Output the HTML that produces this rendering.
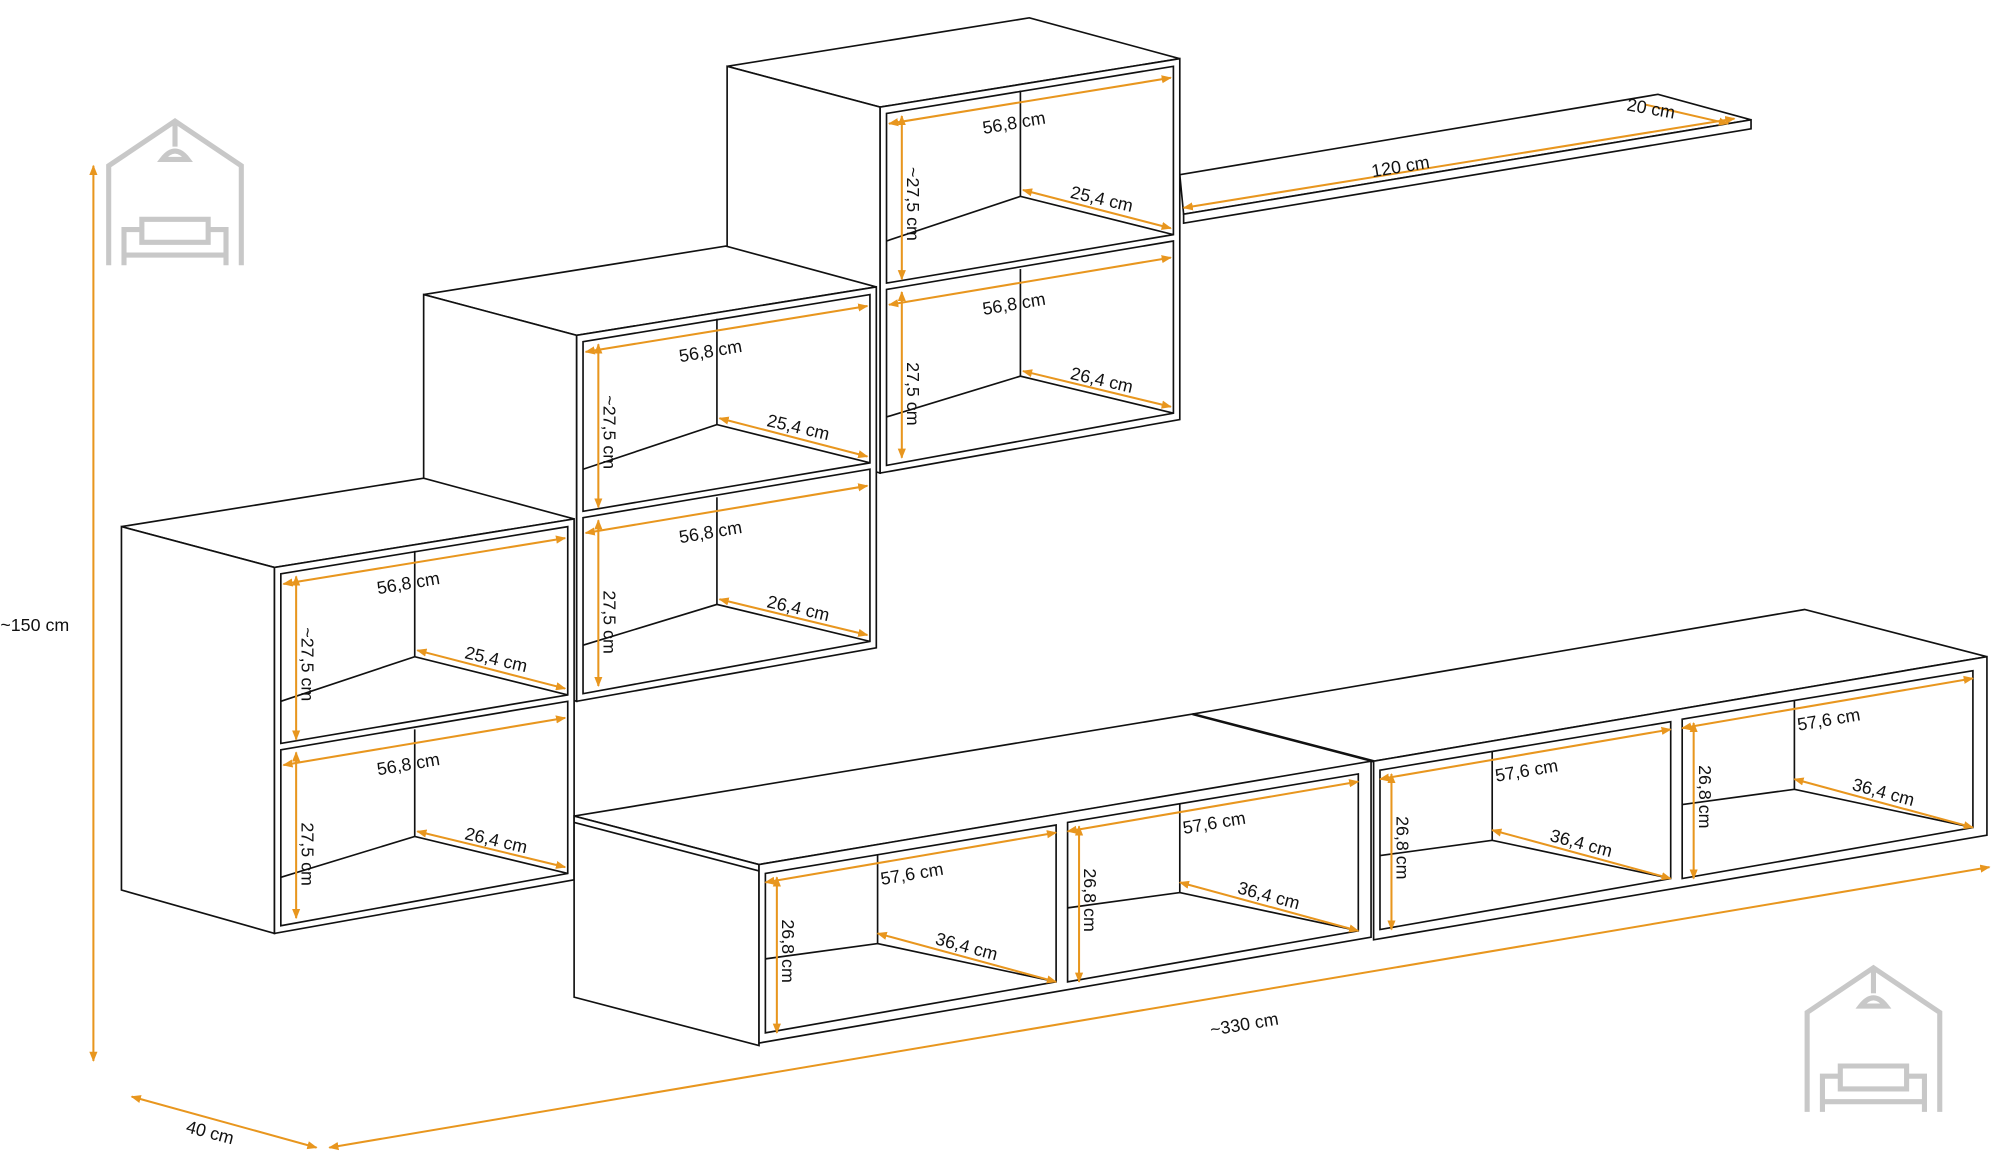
<!DOCTYPE html>
<html><head><meta charset="utf-8"><style>
html,body{margin:0;padding:0;background:#fff;}
svg{display:block;}
text{font-family:"Liberation Sans",sans-serif;font-size:14px;fill:#111;}
</style></head><body>
<svg width="2000" height="1168" viewBox="0 0 1568 916" xmlns="http://www.w3.org/2000/svg">
<defs>
<marker id="a" viewBox="0 0 10 10" refX="9" refY="5" markerWidth="5" markerHeight="5" orient="auto-start-reverse"><path d="M0,1 L10,5 L0,9 z" fill="#e8961e"/></marker>
<g id="cab" fill="none" stroke="#111" stroke-width="1.3">
<polygon points="95,413 332,375 450,407 215,445" fill="#fff"/>
<polyline points="95,418 215,450"/>
<polygon points="95,413 215,445 215,732 95,698" fill="#fff"/>
<polygon points="215,445 450,407 450,690 215,732" fill="#fff"/>
<polygon points="220,450 445,413 445,545 220,583"/>
<polygon points="220,588 445,550 445,685 220,726"/>
<line x1="325" y1="432" x2="325" y2="515"/>
<line x1="325" y1="572" x2="325" y2="656"/>
<polyline points="220,550 325,515 445,545"/>
<polyline points="220,688 325,656 445,685"/>
</g>
<g id="dims" stroke="#e8961e" stroke-width="1.6" fill="none">
<line x1="222" y1="458" x2="443" y2="422" marker-start="url(#a)" marker-end="url(#a)"/>
<line x1="327" y1="510" x2="443" y2="540" marker-start="url(#a)" marker-end="url(#a)"/>
<line x1="232" y1="452" x2="232" y2="580" marker-start="url(#a)" marker-end="url(#a)"/>
<line x1="222" y1="600" x2="443" y2="563" marker-start="url(#a)" marker-end="url(#a)"/>
<line x1="327" y1="652" x2="443" y2="680" marker-start="url(#a)" marker-end="url(#a)"/>
<line x1="232" y1="590" x2="232" y2="720" marker-start="url(#a)" marker-end="url(#a)"/>
</g>
<g id="cmp" fill="none" stroke="#111" stroke-width="1.3">
<polygon points="600,685 828,647 828,770 600,810"/>
<line x1="688" y1="670" x2="688" y2="740"/>
<polyline points="600,752 688,740 828,770"/>
</g>
<g id="bd" stroke="#e8961e" stroke-width="1.6" fill="none">
<line x1="600" y1="692" x2="828" y2="653" marker-start="url(#a)" marker-end="url(#a)"/>
<line x1="688" y1="732" x2="828" y2="770" marker-start="url(#a)" marker-end="url(#a)"/>
<line x1="609" y1="688" x2="609" y2="810" marker-start="url(#a)" marker-end="url(#a)"/>
</g>
<g id="house" fill="none" stroke="#c8c8c8" stroke-width="4">
<polyline points="85,208 85,130 137,95 189,130 189,208"/>
<line x1="137" y1="95" x2="137" y2="115"/>
<path d="M127,125 Q137,112 147,125 z"/>
<path d="M97,208 V180 h14 v10 h52 v-10 h14 V208 M111,190 v-18 h52 v18 M97,200 h80"/>
</g>
</defs>
<g stroke="#e8961e" stroke-width="1.6" fill="none">
<line x1="73" y1="130" x2="73" y2="832" marker-start="url(#a)" marker-end="url(#a)"/>
<line x1="103" y1="860" x2="248" y2="900" marker-start="url(#a)" marker-end="url(#a)"/>
<line x1="258" y1="900" x2="1560" y2="680" marker-start="url(#a)" marker-end="url(#a)"/>
</g>
<text x="0" y="495">~150 cm</text>
<text x="145" y="893" transform="rotate(15 165 890)">40 cm</text>
<text x="948" y="808" transform="rotate(-9.5 975 800)">~330 cm</text>

<!-- shelf -->
<g fill="#fff" stroke="#111" stroke-width="1.3">
<polygon points="925,137 1300,74 1373,94 928,168"/>
<polygon points="928,168 1373,94 1373,101 928,175"/>
</g>
<line x1="928" y1="163" x2="1360" y2="93" stroke="#e8961e" stroke-width="1.6" marker-start="url(#a)" marker-end="url(#a)"/>
<line x1="1290" y1="82" x2="1355" y2="97" stroke="#e8961e" stroke-width="1.6" marker-end="url(#a)"/>
<text x="1075" y="135" transform="rotate(-9.5 1100 130)">120 cm</text>
<text x="1275" y="90" transform="rotate(10 1295 88)">20 cm</text>

<!-- wall cabinets: back to front -->
<g transform="translate(475,-361)">
<use href="#cab"/><use href="#dims"/>
<text x="295" y="462" transform="rotate(-9.5 320 457)">56,8 cm</text>
<text x="364" y="522" transform="rotate(13 390 517)">25,4 cm</text>
<text x="214" y="522" transform="rotate(90 240 518)">~27,5 cm</text>
<text x="295" y="604" transform="rotate(-9.5 320 599)">56,8 cm</text>
<text x="364" y="664" transform="rotate(13 390 659)">26,4 cm</text>
<text x="217" y="672" transform="rotate(90 240 668)">27,5 cm</text>
</g>
<g transform="translate(237,-182)">
<use href="#cab"/><use href="#dims"/>
<text x="295" y="462" transform="rotate(-9.5 320 457)">56,8 cm</text>
<text x="364" y="522" transform="rotate(13 390 517)">25,4 cm</text>
<text x="214" y="522" transform="rotate(90 240 518)">~27,5 cm</text>
<text x="295" y="604" transform="rotate(-9.5 320 599)">56,8 cm</text>
<text x="364" y="664" transform="rotate(13 390 659)">26,4 cm</text>
<text x="217" y="672" transform="rotate(90 240 668)">27,5 cm</text>
</g>
<g>
<use href="#cab"/><use href="#dims"/>
<text x="295" y="462" transform="rotate(-9.5 320 457)">56,8 cm</text>
<text x="364" y="522" transform="rotate(13 390 517)">25,4 cm</text>
<text x="214" y="522" transform="rotate(90 240 518)">~27,5 cm</text>
<text x="295" y="604" transform="rotate(-9.5 320 599)">56,8 cm</text>
<text x="364" y="664" transform="rotate(13 390 659)">26,4 cm</text>
<text x="217" y="672" transform="rotate(90 240 668)">27,5 cm</text>
</g>

<!-- bottom cabinets -->
<g fill="#fff" stroke="#111" stroke-width="1.3">
<polygon points="450,640 935,560 1415,478 1558,515 1077,597 595,678"/>
<line x1="935" y1="560" x2="1077" y2="597" stroke-width="2"/>
<polygon points="450,640 595,678 595,820 450,782"/>
<polyline points="450,645 595,683" fill="none"/>
<polygon points="595,678 1075,597 1075,735 595,818"/>
<polygon points="1077,597 1558,515 1558,655 1077,737"/>
</g>
<g><use href="#cmp"/><use href="#bd"/>
<text x="690" y="690" transform="rotate(-9.5 715 685)">57,6 cm</text>
<text x="733" y="747" transform="rotate(15 758 742)">36,4 cm</text>
<text x="595" y="747" transform="rotate(90 617 743)">26,8 cm</text>
</g>
<g transform="translate(237,-40)"><use href="#cmp"/><use href="#bd"/>
<text x="690" y="690" transform="rotate(-9.5 715 685)">57,6 cm</text>
<text x="733" y="747" transform="rotate(15 758 742)">36,4 cm</text>
<text x="595" y="747" transform="rotate(90 617 743)">26,8 cm</text>
</g>
<g transform="translate(482,-81)"><use href="#cmp"/><use href="#bd"/>
<text x="690" y="690" transform="rotate(-9.5 715 685)">57,6 cm</text>
<text x="733" y="747" transform="rotate(15 758 742)">36,4 cm</text>
<text x="595" y="747" transform="rotate(90 617 743)">26,8 cm</text>
</g>
<g transform="translate(719,-121)"><use href="#cmp"/><use href="#bd"/>
<text x="690" y="690" transform="rotate(-9.5 715 685)">57,6 cm</text>
<text x="733" y="747" transform="rotate(15 758 742)">36,4 cm</text>
<text x="595" y="747" transform="rotate(90 617 743)">26,8 cm</text>
</g>

<use href="#house"/>
<use href="#house" transform="translate(1332,664)"/>
</svg>
</body></html>
